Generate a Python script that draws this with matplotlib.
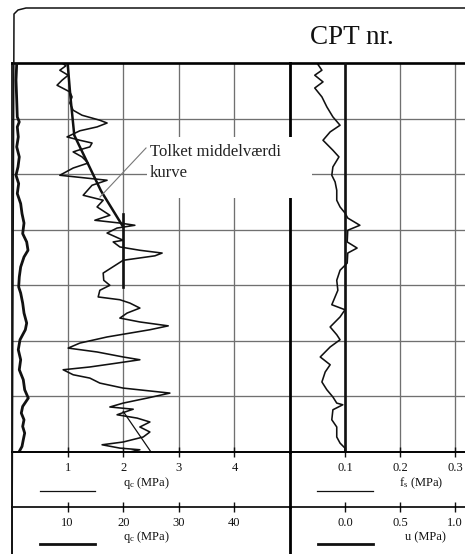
import matplotlib
matplotlib.use("Agg")
import matplotlib.pyplot as plt
from matplotlib.patches import Rectangle
from matplotlib.transforms import blended_transform_factory

plt.rcParams["font.family"] = ["Liberation Serif", "DejaVu Serif"]
plt.rcParams["mathtext.fontset"] = "custom"
plt.rcParams["mathtext.rm"] = "Liberation Serif"
plt.rcParams["mathtext.it"] = "Liberation Serif:italic"

# --------------------------------------------------------------------------- #
# data (depth in grid intervals, 0 = top)
# --------------------------------------------------------------------------- #
qc_depth = [0.00, 0.05, 0.13, 0.22, 0.31, 0.40, 0.52, 0.61, 0.72, 0.85,
            0.94, 1.03, 1.08, 1.15, 1.22, 1.33, 1.39, 1.44, 1.51, 1.57,
            1.60, 1.69, 1.80, 1.89, 2.02, 2.11, 2.20, 2.38, 2.47, 2.59,
            2.74, 2.83, 2.88, 2.92, 2.97, 3.06, 3.19, 3.22, 3.31, 3.37,
            3.42, 3.47, 3.55, 3.78, 3.91, 4.00, 4.09, 4.21, 4.26, 4.32,
            4.41, 4.50, 4.59, 4.66, 4.73, 4.80, 4.93, 5.04, 5.13, 5.20,
            5.29, 5.34, 5.40, 5.47, 5.52, 5.61, 5.67, 5.76, 5.85, 5.94,
            6.03, 6.12, 6.19, 6.23, 6.28, 6.33, 6.39, 6.46, 6.55, 6.64,
            6.73, 6.82, 6.87, 6.93, 6.96, 7.00]
qc_fine = [0.90, 0.97, 0.86, 1.01, 0.90, 0.81, 1.04, 1.08, 1.04, 1.10,
           1.26, 1.58, 1.71, 1.53, 1.22, 0.99, 1.22, 1.44, 1.40, 1.19,
           1.10, 1.26, 1.37, 1.10, 0.86, 1.71, 1.44, 1.28, 1.64, 1.53,
           1.76, 1.49, 1.94, 2.21, 1.89, 1.71, 2.00, 1.82, 1.94, 2.30,
           2.70, 2.57, 2.00, 1.64, 1.65, 1.76, 1.58, 1.55, 1.94, 2.12,
           2.30, 2.07, 1.94, 2.30, 2.81, 2.48, 1.71, 1.22, 1.01, 1.53,
           2.00, 2.30, 1.89, 1.40, 0.92, 1.10, 1.40, 1.58, 2.00, 2.84,
           2.43, 2.00, 1.76, 2.18, 2.03, 1.89, 2.25, 2.48, 2.30, 2.48,
           2.36, 2.00, 1.62, 1.94, 2.30, 2.12]

# coarse-scale qc (0-50 MPa axis), the bold wavy trace near the left edge
qc10_depth = [0.00, 0.31, 0.67, 0.97, 1.06, 1.15, 1.33, 1.51, 1.69, 1.87,
              2.02, 2.17, 2.35, 2.53, 2.71, 2.88, 3.07, 3.22, 3.37, 3.49,
              3.67, 3.85, 4.03, 4.14, 4.32, 4.50, 4.68, 4.80, 4.98, 5.16,
              5.34, 5.52, 5.70, 5.88, 6.03, 6.18, 6.30, 6.42, 6.54, 6.66,
              6.78, 6.90, 6.99]
qc_coarse = [0.85, 0.72, 0.85, 0.95, 1.31, 0.95, 1.13, 0.85, 1.31, 1.08,
             0.72, 1.20, 0.95, 1.56, 1.80, 2.16, 1.92, 2.64, 2.88, 2.16,
             1.56, 1.31, 1.20, 1.56, 1.92, 2.16, 2.64, 2.40, 1.44, 1.13,
             1.56, 1.31, 2.03, 2.28, 2.93, 1.92, 1.67, 2.16, 1.92, 2.28,
             2.03, 1.80, 1.31]

# interpreted mean curve ("tolket middelvaerdi kurve")
mean_depth = [0.00, 0.60, 1.30, 2.30, 2.95]
mean_qc = [1.00, 1.05, 1.12, 1.60, 2.00]
mean_vert_depth = [2.72, 4.03]
mean_vert_qc = [2.00, 2.00]
trend_depth = [6.27, 7.00]
trend_qc = [2.00, 2.50]

fs_depth = [0.00, 0.13, 0.22, 0.34, 0.45, 0.61, 0.79, 0.97, 1.12, 1.24,
            1.39, 1.57, 1.69, 1.87, 2.02, 2.14, 2.29, 2.47, 2.59, 2.70,
            2.79, 2.92, 3.01, 3.22, 3.33, 3.42, 3.60, 3.73, 3.91, 4.09,
            4.35, 4.44, 4.57, 4.75, 4.89, 4.98, 5.11, 5.29, 5.43, 5.56,
            5.74, 5.88, 6.01, 6.12, 6.15, 6.24, 6.42, 6.55, 6.73, 6.84,
            6.93, 7.00]
fs = [0.049, 0.058, 0.045, 0.060, 0.045, 0.058, 0.067, 0.078, 0.091, 0.073,
      0.060, 0.078, 0.089, 0.078, 0.076, 0.082, 0.085, 0.085, 0.091, 0.100,
      0.105, 0.127, 0.105, 0.104, 0.122, 0.105, 0.104, 0.091, 0.085, 0.087,
      0.076, 0.100, 0.091, 0.073, 0.085, 0.091, 0.073, 0.055, 0.073, 0.064,
      0.058, 0.067, 0.078, 0.085, 0.096, 0.078, 0.076, 0.085, 0.085, 0.091,
      0.100, 0.100]

u_depth = [0.0, 7.0]
u = [0.0, 0.0]

qc_ticks = [1, 2, 3, 4]
qc10_ticks = [10, 20, 30, 40]
fs_ticks = [0.1, 0.2, 0.3]
u_ticks = [0.0, 0.5, 1.0]
depth_grid = [1, 2, 3, 4, 5, 6]

# --------------------------------------------------------------------------- #
W, H = 465, 554
fig = plt.figure(figsize=(W / 100, H / 100), dpi=100)
fig.patch.set_facecolor("white")

GRID = "#707070"
INK = "#111111"


def px_rect(left, top, width, height):
    return [left / W, 1 - (top + height) / H, width / W, height / H]


def clean(ax, xlim, xticks):
    ax.set_xlim(*xlim)
    ax.set_ylim(7, 0)
    ax.set_xticks(xticks)
    ax.set_yticks(depth_grid)
    ax.tick_params(length=0, labelbottom=False, labelleft=False)
    ax.grid(True, color=GRID, lw=0.95)
    ax.set_axisbelow(True)


# left panel: qc
ax_qc = fig.add_axes(px_rect(12, 63, 278, 389))
clean(ax_qc, (0, 5), qc_ticks)
ax_qc.spines["top"].set_linewidth(1.9)
ax_qc.spines["left"].set_linewidth(1.2)
ax_qc.spines["bottom"].set_linewidth(1.2)
ax_qc.spines["right"].set_visible(False)
ax_qc.plot(qc_fine, qc_depth, color=INK, lw=1.15)
ax_qc.plot(mean_qc, mean_depth, color=INK, lw=1.8)
ax_qc.plot(mean_vert_qc, mean_vert_depth, color=INK, lw=1.9)
ax_qc.plot(trend_qc, trend_depth, color=INK, lw=0.9)

ax_qc10 = fig.add_axes(px_rect(12, 63, 278, 389))
ax_qc10.set_xlim(0, 50); ax_qc10.set_ylim(7, 0)
ax_qc10.axis("off"); ax_qc10.patch.set_alpha(0)
ax_qc10.plot(qc_coarse, qc10_depth, color=INK, lw=2.0)

# right panel: fs and u
ax_fs = fig.add_axes(px_rect(290, 63, 175, 389))
clean(ax_fs, (0, 175 / 550), fs_ticks)
ax_fs.spines["top"].set_linewidth(1.9)
ax_fs.spines["left"].set_linewidth(2.0)
ax_fs.spines["bottom"].set_linewidth(1.2)
ax_fs.spines["right"].set_visible(False)
ax_fs.plot(fs, fs_depth, color=INK, lw=1.15)

ax_u = fig.add_axes(px_rect(290, 63, 175, 389))
ax_u.set_xlim(-0.5, 120 / 110); ax_u.set_ylim(7, 0)
ax_u.axis("off"); ax_u.patch.set_alpha(0)
ax_u.plot(u, u_depth, color=INK, lw=1.9)

# --------------------------------------------------------------------------- #
# footer: scale rows
# --------------------------------------------------------------------------- #
def footer(rect, xlim, ticks, labels, name, name_x, swatch, lw, left_thick, row2):
    ax = fig.add_axes(rect)
    ax.set_xlim(*xlim); ax.set_ylim(0, 1)
    ax.set_yticks([])
    ax.xaxis.tick_top()
    ax.set_xticks(ticks)
    ax.tick_params(axis="x", direction="inout", length=7, width=1.0,
                   colors=INK, labeltop=False)
    for s in ("right", "bottom"):
        ax.spines[s].set_visible(False)
    ax.spines["top"].set_linewidth(1.2)
    ax.spines["left"].set_linewidth(2.0 if left_thick else 1.2)
    ax.patch.set_alpha(0)
    tr = blended_transform_factory(ax.transData, ax.transAxes)
    ly, ny, sy = (0.66, 0.36, 0.21) if row2 else (0.71, 0.44, 0.29)
    for t, lab in zip(ticks, labels):
        ax.text(t, ly, lab, transform=tr, ha="center", va="center", fontsize=9, color=INK)
    ax.text(name_x, ny, name, transform=tr, ha="center", va="center", fontsize=9, color=INK)
    ax.plot(swatch, [sy, sy], transform=tr, color=INK, lw=lw, clip_on=False)
    return ax


footer(px_rect(12, 452, 278, 55), (0, 5), qc_ticks, ["1", "2", "3", "4"],
       r"q$_{\mathrm{c}}$ (MPa)", 2.41, [0.5, 1.5], 0.9, False, False)
footer(px_rect(290, 452, 175, 55), (0, 175 / 550), fs_ticks, ["0.1", "0.2", "0.3"],
       r"f$_{\mathrm{s}}$ (MPa)", 0.238, [0.049, 0.151], 0.9, True, False)
footer(px_rect(12, 507, 278, 47), (0, 50), qc10_ticks, ["10", "20", "30", "40"],
       r"q$_{\mathrm{c}}$ (MPa)", 24.1, [5, 15], 2.0, False, True)
footer(px_rect(290, 507, 175, 47), (-0.5, 120 / 110), u_ticks, ["0.0", "0.5", "1.0"],
       "u (MPa)", 0.73, [-0.25, 0.25], 2.0, True, True)

# --------------------------------------------------------------------------- #
# overlay: header frame, title, annotation box
# --------------------------------------------------------------------------- #
ov = fig.add_axes([0, 0, 1, 1])
ov.set_xlim(0, W); ov.set_ylim(H, 0)
ov.axis("off"); ov.patch.set_alpha(0)
ov.plot([12, 14, 18, 26, W], [554, 14, 10, 8, 8], color=INK, lw=1.1)
ov.text(352, 37, "CPT nr.", ha="center", va="center", fontsize=19.5, color=INK)
ov.add_patch(Rectangle((147, 137), 165, 61, facecolor="white", edgecolor="none", zorder=3))
ov.text(150, 152, "Tolket middelværdi", ha="left", va="center", fontsize=12,
        color="#222222", zorder=4)
ov.text(150, 173, "kurve", ha="left", va="center", fontsize=12,
        color="#222222", zorder=4)
ov.plot([146, 100], [148, 197], color="#777777", lw=0.8, zorder=4)

fig.savefig("out.png", dpi=100)
